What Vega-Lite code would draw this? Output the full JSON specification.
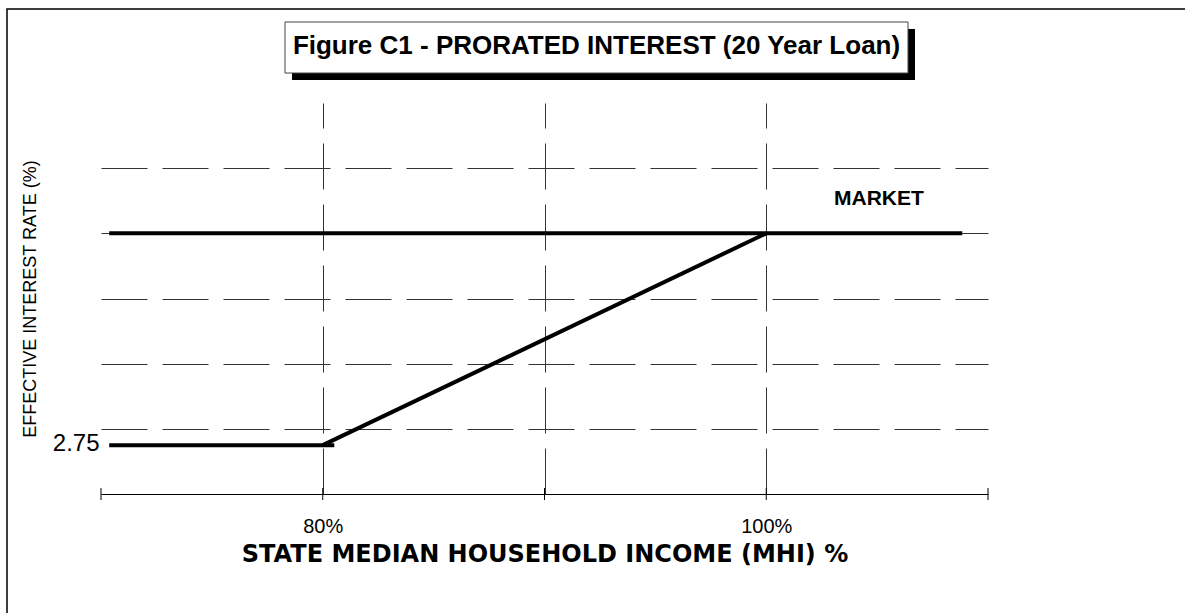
{
  "$schema": "https://vega.github.io/schema/vega-lite/v6.json",
  "autosize": {"type": "none"},
  "width": 887,
  "height": 391,
  "padding": {"left": 101, "top": 103, "right": 197, "bottom": 119},
  "background": "#ffffff",
  "config": {
    "view": {"stroke": null},
    "font": "Liberation Sans"
  },
  "title": {
    "text": "Figure C1 - PRORATED INTEREST (20 Year Loan)",
    "anchor": "middle",
    "dx": 52,
    "offset": -72,
    "baseline": "alphabetic",
    "font": "Liberation Sans",
    "fontSize": 26,
    "fontWeight": "bold",
    "color": "#000000"
  },
  "datasets": {
    "rates": [
      {"segment": "minimum", "income": 70.37, "rate": 2.75},
      {"segment": "minimum", "income": 80.52, "rate": 2.75},
      {"segment": "prorated", "income": 80, "rate": 2.75},
      {"segment": "prorated", "income": 100, "rate": 6},
      {"segment": "market", "income": 70.37, "rate": 6},
      {"segment": "market", "income": 108.84, "rate": 6}
    ],
    "axisTicks": [
      {"income": 70, "rate": 2}, {"income": 80, "rate": 2}, {"income": 90, "rate": 2}, {"income": 100, "rate": 2}, {"income": 110, "rate": 2}
    ],
    "shapes": [
      {"shape": "frame", "x": 65.761, "x2": 125, "y": 9.4425, "y2": -2},
      {"shape": "shadow", "x": 78.613, "x2": 106.708, "y": 9.136, "y2": 8.353},
      {"shape": "box", "x": 78.298, "x2": 106.393, "y": 9.243, "y2": 8.46}
    ],
    "notes": [
      {"note": "MARKET", "income": 105.08, "rate": 6.435}
    ]
  },
  "encoding": {
    "x": {
      "field": "income",
      "type": "quantitative",
      "scale": {"domain": [70, 110], "nice": false, "zero": false},
      "axis": {
        "values": [80, 90, 100],
        "labelExpr": "datum.value === 90 ? '' : datum.value + '%'",
        "title": "STATE MEDIAN HOUSEHOLD INCOME (MHI) %",
        "titleFont": "DejaVu Sans",
        "titleFontWeight": "bold",
        "titleFontSize": 24,
        "titleColor": "#000000",
        "titleBaseline": "alphabetic",
        "titleY": 67,
        "ticks": false,
        "tickSize": 0,
        "domain": true,
        "domainColor": "#000000",
        "domainWidth": 1,
        "labelFont": "Liberation Sans",
        "labelFontSize": 20,
        "labelColor": "#000000",
        "labelPadding": 22,
        "labelFlush": false,
        "grid": true,
        "gridColor": "#333333",
        "gridWidth": 1,
        "gridDash": [46, 15],
        "gridDashOffset": 21
      }
    },
    "y": {
      "field": "rate",
      "type": "quantitative",
      "scale": {"domain": [2, 8], "nice": false, "zero": false},
      "axis": {
        "values": [2.75, 3, 4, 5, 6, 7],
        "labelExpr": "datum.value === 2.75 ? '2.75' : ''",
        "title": "EFFECTIVE INTEREST RATE (%)",
        "titleFont": "Liberation Sans",
        "titleFontWeight": "normal",
        "titleFontSize": 18,
        "titleColor": "#000000",
        "titleBaseline": "middle",
        "titleX": -71,
        "ticks": false,
        "tickSize": 0,
        "domain": false,
        "labelFont": "Liberation Sans",
        "labelFontSize": 24,
        "labelColor": "#000000",
        "labelPadding": 2,
        "labelOffset": -2,
        "grid": true,
        "gridColor": "#333333",
        "gridWidth": 1,
        "gridDash": [46, 15],
        "gridOpacity": {"condition": {"test": "datum.value === 2.75", "value": 0}, "value": 1}
      }
    }
  },
  "layer": [
    {
      "data": {"name": "shapes"},
      "transform": [{"filter": "datum.shape === 'frame'"}],
      "mark": {"type": "rect", "fill": null, "fillOpacity": 0, "stroke": "#000000", "strokeWidth": 1.5},
      "encoding": {
        "x": {"field": "x", "type": "quantitative"},
        "x2": {"field": "x2"},
        "y": {"field": "y", "type": "quantitative"},
        "y2": {"field": "y2"}
      }
    },
    {
      "data": {"name": "shapes"},
      "transform": [{"filter": "datum.shape === 'shadow'"}],
      "mark": {"type": "rect", "fill": "#000000", "stroke": null},
      "encoding": {
        "x": {"field": "x", "type": "quantitative"},
        "x2": {"field": "x2"},
        "y": {"field": "y", "type": "quantitative"},
        "y2": {"field": "y2"}
      }
    },
    {
      "data": {"name": "shapes"},
      "transform": [{"filter": "datum.shape === 'box'"}],
      "mark": {"type": "rect", "fill": "#ffffff", "stroke": "#444444", "strokeWidth": 1},
      "encoding": {
        "x": {"field": "x", "type": "quantitative"},
        "x2": {"field": "x2"},
        "y": {"field": "y", "type": "quantitative"},
        "y2": {"field": "y2"}
      }
    },
    {
      "data": {"name": "axisTicks"},
      "mark": {"type": "tick", "orient": "vertical", "size": 12, "thickness": 1, "color": "#000000", "opacity": 1}
    },
    {
      "data": {"name": "rates"},
      "mark": {"type": "line", "color": "#000000", "strokeWidth": 4, "strokeCap": "butt"},
      "encoding": {
        "detail": {"field": "segment", "type": "nominal"}
      }
    },
    {
      "data": {"name": "notes"},
      "mark": {"type": "text", "font": "Liberation Sans", "fontWeight": "bold", "fontSize": 21, "align": "center", "baseline": "alphabetic", "color": "#000000"},
      "encoding": {
        "text": {"field": "note", "type": "nominal"}
      }
    }
  ]
}
